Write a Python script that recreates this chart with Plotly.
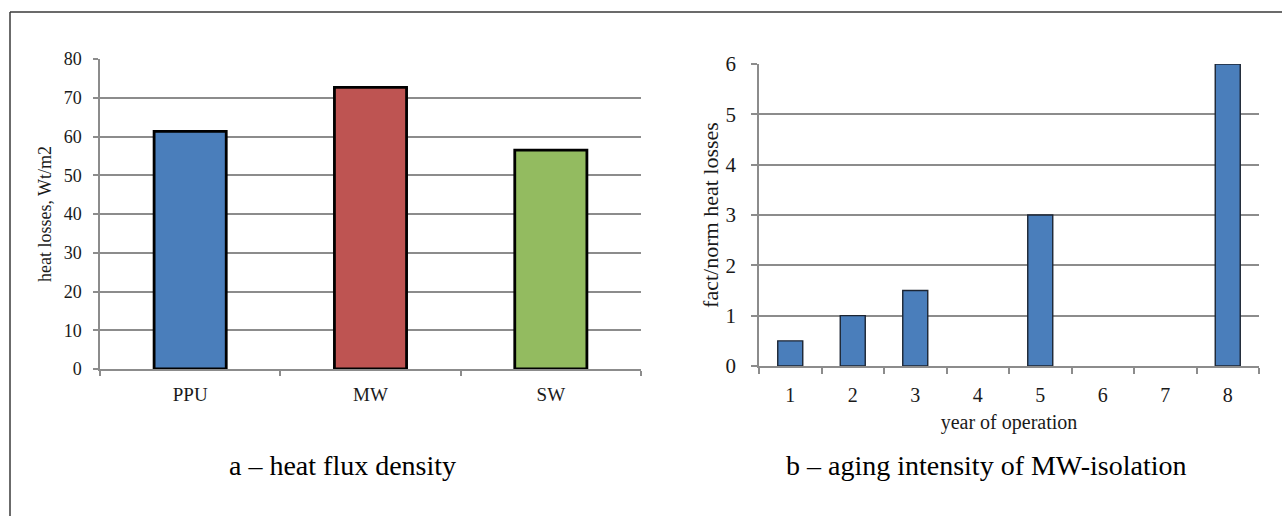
import plotly.graph_objects as go

W, H = 1282, 516

# Chart a – heat flux density
materials = ["PPU", "MW", "SW"]
heat_losses = [61.3, 72.7, 56.5]
material_colors = ["#4a7ebb", "#be5452", "#93bb60"]

# Chart b – aging intensity of MW-isolation
years = ["1", "2", "3", "4", "5", "6", "7", "8"]
fact_norm = [0.5, 1.0, 1.5, 0, 3.0, 0, 0, 6.0]

left_ticks = [0, 10, 20, 30, 40, 50, 60, 70, 80]
right_ticks = [0, 1, 2, 3, 4, 5, 6]

FONT = "Liberation Serif"
GRID = "#8c8c8c"


def px_x(p):
    return p / W


def px_y(p):
    return 1 - p / H


fig = go.Figure()

fig.add_trace(go.Bar(
    x=materials, y=heat_losses, width=0.4,
    marker=dict(color=material_colors, line=dict(color="#000000", width=2.8)),
    xaxis="x", yaxis="y", showlegend=False,
))

fig.add_trace(go.Bar(
    x=years, y=fact_norm, width=0.4,
    marker=dict(color="#4a7ebb",
                line=dict(color="#1c2533",
                          width=[1.4 if v > 0 else 0 for v in fact_norm])),
    xaxis="x2", yaxis="y2", showlegend=False,
))

axis_common = dict(showline=True, linecolor=GRID, linewidth=1.5,
                   ticks="outside", tickcolor=GRID, tickwidth=1.5,
                   automargin=False)

fig.update_layout(
    template="none",
    width=W, height=H,
    margin=dict(l=0, r=0, t=0, b=0, pad=0, autoexpand=False),
    paper_bgcolor="white", plot_bgcolor="white",
    font=dict(family=FONT, color="#1a1a1a"),
    bargap=0.6,
    xaxis=dict(domain=[px_x(100), px_x(641)], anchor="y", type="category",
               tickson="boundaries", ticklen=5, showgrid=False,
               tickfont=dict(size=19, family=FONT), ticklabelstandoff=7,
               **axis_common),
    yaxis=dict(domain=[px_y(369), px_y(59)], anchor="x", range=[0, 80],
               tickvals=left_ticks, ticklen=5, showgrid=True,
               gridcolor=GRID, gridwidth=1.5, zeroline=False,
               tickfont=dict(size=18, family=FONT), ticklabelstandoff=8,
               title=dict(text="heat losses, Wt/m2", font=dict(size=18, family=FONT),
                          standoff=7),
               **axis_common),
    xaxis2=dict(domain=[px_x(759), px_x(1259)], anchor="y2", type="category",
                tickson="boundaries", ticklen=6, showgrid=False,
                tickfont=dict(size=20, family=FONT), ticklabelstandoff=10,
                title=dict(text="year of operation", font=dict(size=20, family=FONT),
                           standoff=10),
                **axis_common),
    yaxis2=dict(domain=[px_y(366), px_y(64)], anchor="x2", range=[0, 6],
                tickvals=right_ticks, ticklen=6, showgrid=True,
                gridcolor=GRID, gridwidth=1.5, zeroline=False,
                tickfont=dict(size=21, family=FONT), ticklabelstandoff=11,
                title=dict(text="fact/norm heat losses", font=dict(size=22, family=FONT),
                           standoff=1),
                **axis_common),
    shapes=[
        dict(type="line", xref="paper", yref="paper", x0=px_x(10), x1=1,
             y0=px_y(12), y1=px_y(12), line=dict(color="#3a3a3a", width=1.5)),
        dict(type="line", xref="paper", yref="paper", x0=px_x(10), x1=px_x(10),
             y0=px_y(12), y1=0, line=dict(color="#3a3a3a", width=1.5)),
    ],
    annotations=[
        dict(text="a – heat flux density", xref="paper", yref="paper",
             x=px_x(342), y=px_y(465), xanchor="center", yanchor="middle",
             showarrow=False, font=dict(size=28, family=FONT, color="#000000")),
        dict(text="b – aging intensity of MW-isolation", xref="paper", yref="paper",
             x=px_x(986), y=px_y(465), xanchor="center", yanchor="middle",
             showarrow=False, font=dict(size=28, family=FONT, color="#000000")),
    ],
)

fig.write_html(
    "out.html",
    post_script="document.body.style.margin='0';document.body.style.padding='0';"
                "document.body.style.overflow='hidden';",
)
